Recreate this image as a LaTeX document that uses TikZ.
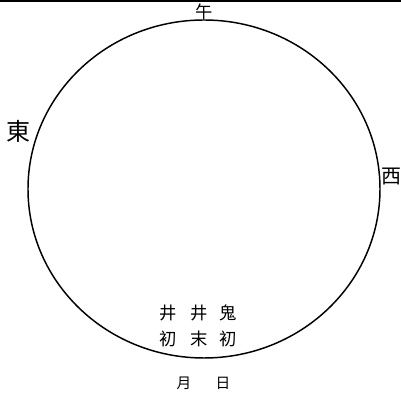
\documentclass[tikz,border=0pt]{standalone}
\usepackage{fontspec}
\newfontfamily\cjk{Noto Sans CJK TC}
\usetikzlibrary{positioning}

\begin{document}
\begin{tikzpicture}[x=0.75pt,y=0.75pt]
  \tikzstyle{dirlabel}=[inner sep=0pt,font=\cjk\fontsize{15}{15}\selectfont]
  \tikzstyle{starcol}=[inner sep=0pt,align=center,font=\cjk\fontsize{13}{20}\selectfont]
  \tikzstyle{daylabel}=[inner sep=0pt,font=\cjk\fontsize{11}{11}\selectfont]

  \useasboundingbox (0,0) rectangle (401,396);

  \coordinate (rimleft) at (0,395);
  \coordinate (rimright) at (401,395);
  \draw[line width=1.5pt] (rimleft) -- (rimright);

  \coordinate (centre) at (204,207);
  \draw[line width=1.1pt] (centre) ellipse [x radius=176, y radius=169];

  \node[dirlabel,font=\cjk\fontsize{13}{13}\selectfont] (noon) at (204,384) {午};
  \node[dirlabel,font=\cjk\fontsize{18}{18}\selectfont] (east) at (19,265) {東};
  \node[dirlabel] (west) at (392,219) {西};

  \node[starcol] (jingstart) at (168,70) {井\\初};
  \node[starcol] (jingend) at (199,70) {井\\末};
  \node[starcol] (guistart) at (228,70) {鬼\\初};

  \node[daylabel] (moon) at (184,13) {月};
  \node[daylabel] (sun) at (223,13) {日};
\end{tikzpicture}
\end{document}
